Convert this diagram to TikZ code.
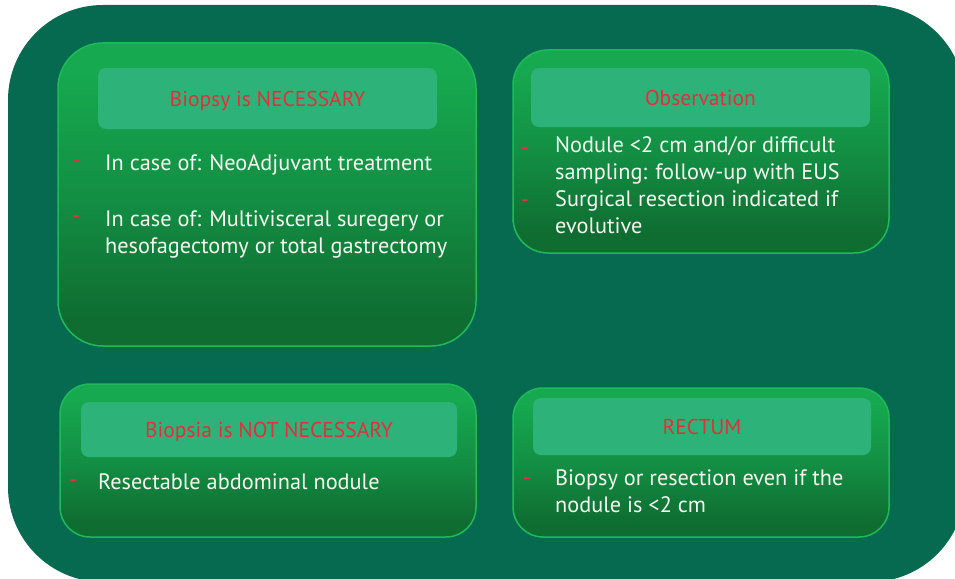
\documentclass[tikz,border=0pt]{standalone}
\usepackage{fontspec}
\setmainfont{PT Sans}
\definecolor{bgc}{HTML}{066A50}
\definecolor{boxtop}{HTML}{16A94F}
\definecolor{boxmid}{HTML}{138F44}
\definecolor{boxbot}{HTML}{0F6D31}
\definecolor{boxline}{HTML}{1EBA5A}
\definecolor{hdrc}{HTML}{2DB37A}
\definecolor{redc}{HTML}{E0313A}
\definecolor{txtc}{HTML}{F7F7F2}
\pgfdeclareverticalshading{boxshade}{100bp}{color(0bp)=(boxbot); color(30bp)=(boxbot); color(50bp)=(boxmid); color(70bp)=(boxtop); color(100bp)=(boxtop)}
\tikzset{
  panel/.style={shading=boxshade, draw=boxline, line width=1.5pt},
  hdr/.style={fill=hdrc, rounded corners=8, inner sep=0pt, text=redc,
    font=\fontsize{21.5}{26}\selectfont, text height=15pt, text depth=0pt},
  body/.style={anchor=base west, inner sep=0pt, text=txtc, font=\fontsize{22.3}{27}\selectfont},
  bul/.style={anchor=base, inner sep=0pt, text=redc, font=\fontsize{24}{28}\selectfont}
}
\begin{document}
\begin{tikzpicture}[x=1pt,y=-1pt]
\useasboundingbox (0,0) rectangle (955,578);
\fill[bgc, rounded corners=95] (8,5) rectangle (965,582);
% panels
\shade[panel, rounded corners=45] (58,43) rectangle (476,346);
\shade[panel, rounded corners=35] (513,50) rectangle (889,253);
\shade[panel, rounded corners=30] (60,384) rectangle (476,537);
\shade[panel, rounded corners=30] (513,388) rectangle (889,537);
% headers
\node[hdr, minimum width=339pt, minimum height=61pt] (h1) at (267.5,98.5) {Biopsy is NECESSARY};
\node[hdr, minimum width=339pt, minimum height=59pt] (h2) at (700.5,97.5) {Observation};
\node[hdr, minimum width=376pt, minimum height=55pt] (h3) at (269,429.5) {Biopsia is NOT NECESSARY};
\node[hdr, minimum width=338pt, minimum height=57pt] (h4) at (702,426.5) {RECTUM};
% box 1
\node[bul] (b1a) at (76,167) {-};
\node[body] (t1a) at (105,170) {In case of: NeoAdjuvant treatment};
\node[bul] (b1b) at (76,223) {-};
\node[body] (t1b) at (105,226) {In case of: Multivisceral suregery or};
\node[body] (t1c) at (105,253) {hesofagectomy or total gastrectomy};
% box 2
\node[bul] (b2a) at (525,155) {-};
\node[body] (t2a) at (555,152) {Nodule <2 cm and/or difficult};
\node[body] (t2b) at (555,179) {sampling: follow-up with EUS};
\node[bul] (b2b) at (525,207) {-};
\node[body] (t2c) at (555,206) {Surgical resection indicated if};
\node[body] (t2d) at (555,233) {evolutive};
% box 3
\node[bul] (b3a) at (73,487) {-};
\node[body] (t3a) at (98,489) {Resectable abdominal nodule};
% box 4
\node[bul] (b4a) at (527,485) {-};
\node[body] (t4a) at (555,485) {Biopsy or resection even if the};
\node[body] (t4b) at (555,512) {nodule is <2 cm};
\end{tikzpicture}
\end{document}
